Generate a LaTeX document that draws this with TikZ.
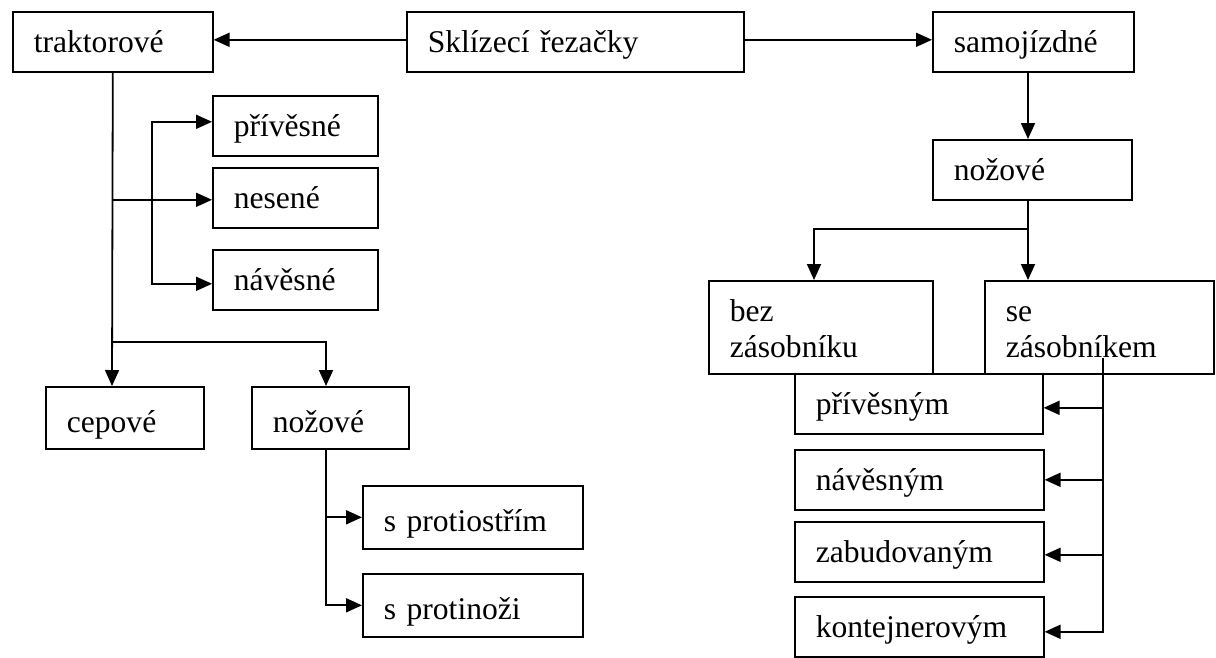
\documentclass[tikz,border=0pt]{standalone}
\usepackage{fontspec}
\setmainfont{Liberation Serif}
\usetikzlibrary{arrows.meta,calc}
\begin{document}
\begin{tikzpicture}[x=1pt,y=-1pt,
  box/.style={draw, line width=1.6pt, anchor=north west, inner xsep=21pt, inner ysep=0pt,
    align=left, minimum height=60pt, text height=27pt, text depth=5pt,
    font=\fontsize{31.6}{36}\selectfont},
  tall/.style={minimum height=93pt, text depth=38pt},
  low/.style={text height=33pt, text depth=4pt},
  conn/.style={line width=1.8pt},
  arr/.style={conn, -{Triangle[length=16pt,width=14pt]}},
  arrs/.style={conn, {Triangle[length=16pt,width=14pt]}-{Triangle[length=16pt,width=14pt]}}]
\useasboundingbox (0,0) rectangle (1216,657);

\node[box, text width=158pt] (trak) at (12,11) {traktorové};
\node[box, text width=295pt] (skl) at (406,11) {Sklízecí řezačky};
\node[box, text width=159pt] (samo) at (932,11) {samojízdné};
\node[box, text width=123pt] (priv) at (212,95) {přívěsné};
\node[box, text width=123pt] (nes) at (212,167) {nesené};
\node[box, text width=123pt] (nav) at (212,249) {návěsné};
\node[box, low, text width=116pt, minimum height=62pt] (cep) at (45,386) {cepové};
\node[box, low, text width=115pt, minimum height=62pt] (noz1) at (251,386) {nožové};
\node[box, low, text width=178pt, minimum height=63pt] (sprot) at (362,485) {s protiostřím};
\node[box, low, text width=178pt, minimum height=63pt] (sprotn) at (362,573) {s protinoži};
\node[box, text width=157pt] (noz2) at (932,139) {nožové};
\node[box, tall, text width=182pt] (bez) at (708,280) {bez\\zásobníku};
\node[box, tall, text width=187pt] (se) at (984,280) {se\\zásobníkem};
\node[box, text width=206pt] (privn) at (794,373) {přívěsným};
\node[box, text width=207pt] (navn) at (794,449) {návěsným};
\node[box, text width=207pt] (zab) at (794,521) {zabudovaným};
\node[box, text width=207pt] (kont) at (794,596) {kontejnerovým};

\draw[arr] ([yshift=2pt]skl.west) -- ([yshift=2pt]trak.east);
\draw[arr] ([yshift=2pt]skl.east) -- ([yshift=2pt]samo.west);
\draw[arr] ([xshift=96pt]samo.south west) -- ([xshift=96pt]noz2.north west);
\draw[arr] ([xshift=96pt]noz2.south west) -- ([xshift=44pt]se.north west);
\draw[arr] ([xshift=96pt]noz2.south west) -- ++(0,28) -| ([xshift=106pt]bez.north west);

\draw[arr] (trak.south) -- ([xshift=67pt]cep.north west);
\draw[arr] ($(trak.south)+(0,269)$) -| ([xshift=75pt]noz1.north west);
\coordinate (nesw) at ([yshift=-2pt]nes.west);
\draw[arr] (trak.south |- nesw) -- (nesw);
\draw[arrs] ([yshift=4pt]priv.west) -- ++(-60,0) |- ([yshift=-4pt]nav.west);

\coordinate (n1b) at ([xshift=75pt]noz1.south west);
\draw[arr] (n1b) |- (sprotn.west);
\draw[arr] (n1b |- sprot.west) -- (sprot.west);

\coordinate (sj) at ($(se.north west)+(119,78)$);
\coordinate (pe) at ([yshift=-4pt]privn.east);
\coordinate (ze) at ([yshift=-3pt]zab.east);
\coordinate (ke) at ([yshift=-5pt]kont.east);
\draw[arr] (sj) |- (ke);
\draw[arr] (sj |- pe) -- (pe);
\draw[arr] (sj |- navn.east) -- (navn.east);
\draw[arr] (sj |- ze) -- (ze);
\end{tikzpicture}
\end{document}
